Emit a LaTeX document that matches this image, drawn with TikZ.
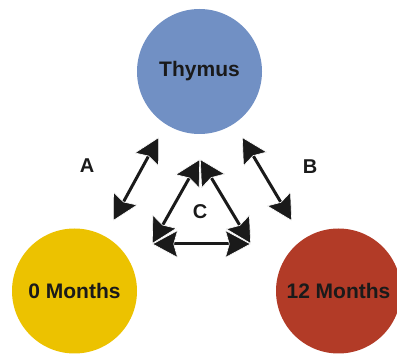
\documentclass[tikz,border=0pt]{standalone}
\usepackage{fontspec}
\setmainfont{Liberation Sans}
\usepackage{tikz}
\usetikzlibrary{arrows.meta}
\definecolor{thymusblue}{HTML}{7190C4}
\definecolor{zeroyellow}{HTML}{ECC200}
\definecolor{twelvered}{HTML}{B23B27}
\definecolor{inkblack}{HTML}{1A1A1A}
\tikzset{headtip/.tip={Stealth[length=26pt,width=28pt,inset=4pt,color=white,fill=inkblack,line width=0.6pt]}}

\begin{document}
\begin{tikzpicture}[x=1pt,y=-1pt,
    stage/.style={circle,minimum size=125pt,inner sep=0pt,text=inkblack,
      font=\fontsize{21}{25}\selectfont\bfseries},
    link/.style={inkblack,line width=3pt,{headtip}-{headtip}},
    tag/.style={text=inkblack,font=\fontsize{20}{24}\selectfont\bfseries}]
            \useasboundingbox (0,0) rectangle (397,358);
            % the three circles
            \node[stage,fill=thymusblue] (thymus) at (199.5,71.5) {Thymus};
            \node[stage,fill=zeroyellow] (zero) at (74.5,291) {0 Months};
            \node[stage,fill=twelvered] (twelve) at (338.5,291) {12 Months};
            % arrow ends
            \coordinate (aup) at (159,137);
            \coordinate (alow) at (113,221);
            \coordinate (bup) at (242,137);
            \coordinate (blow) at (292,221);
            \coordinate (ctop) at (200,159);
            \coordinate (cleft) at (152,244);
            \coordinate (cright) at (251,244);
            \draw[link] (aup) -- (alow);
            \draw[link] (bup) -- (blow);
            \draw[link] (ctop) -- (cleft);
            \draw[link] (ctop) -- (cright);
            \draw[link] (cleft) -- (cright);
            \node[tag] (a) at (87,166) {A};
            \node[tag] (b) at (310,167) {B};
            \node[tag] (c) at (200,212) {C};
        \end{tikzpicture}
\end{document}
